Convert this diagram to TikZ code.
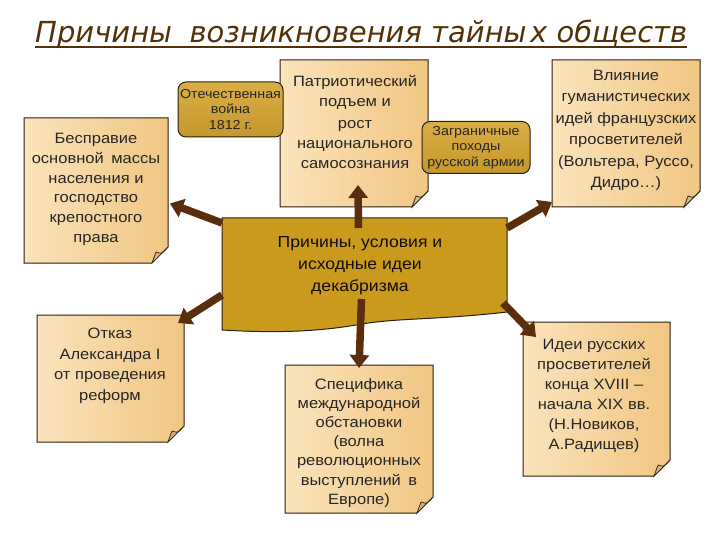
\documentclass[tikz,border=0pt]{standalone}
\usepackage{fontspec}
\setmainfont{Liberation Sans}[FakeStretch=1.1]
\newfontfamily\titlefont{DejaVu Sans}
\usetikzlibrary{arrows.meta}
\definecolor{paperA}{HTML}{FBE3BC}
\definecolor{paperB}{HTML}{F0C682}
\definecolor{flapc}{HTML}{D8B07C}
\definecolor{goldA}{HTML}{D9AF45}
\definecolor{goldB}{HTML}{C4972C}
\definecolor{ctrc}{HTML}{C99A1C}
\definecolor{arrc}{HTML}{5A2D0C}
\definecolor{titlec}{HTML}{53320A}
\definecolor{edgec}{HTML}{2A2010}
\tikzset{
  paper/.style={draw=edgec, line width=1pt, left color=paperA, right color=paperB},
  flap/.style={draw=edgec, line width=0.7pt, fill=flapc},
  boxnode/.style={inner sep=0pt, outer sep=0pt, draw=none},
  btext/.style={align=center, font=\fontsize{15}{19.8}\selectfont, text=black!85, inner sep=0pt, anchor=north},
  goldbox/.style={draw=edgec, line width=1pt, rounded corners=8pt, top color=goldA, bottom color=goldB,
    align=center, inner sep=0pt, font=\fontsize{13}{15.5}\selectfont, text=black!85},
  arr/.style={draw=arrc, line width=7.5pt, -{Triangle[width=19pt,length=13pt]}},
}
\newcommand\paperbox[5]{%
  \node[boxnode, minimum width={#4-#2}, minimum height={#5-#3}] (#1) at ({(#2+#4)/2},{(#3+#5)/2}) {};
  \path[paper] (#1.north west) -- (#1.north east) -- ([yshift=16pt]#1.south east)
     -- ([xshift=-16pt]#1.south east) -- (#1.south west) -- cycle;
  \path[flap] ([yshift=16pt]#1.south east) .. controls ([xshift=-6pt,yshift=9pt]#1.south east) .. ([xshift=-12pt,yshift=11pt]#1.south east)
     -- ([xshift=-16pt]#1.south east) -- cycle;
}
\begin{document}
\begin{tikzpicture}[x=1pt,y=-1pt]
\useasboundingbox[fill=white] (0,0) rectangle (720,540);

% title
\node[anchor=base west, inner sep=0pt, font=\titlefont\itshape\fontsize{29}{35}\selectfont, text=titlec]
  (title) at (35,43) {Причины\hspace{0.6em}возникновения тайны\hspace{0.12em}х обществ};
\draw[titlec, line width=2.5pt] ([yshift=-4pt]title.base west) -- ([yshift=-4pt]title.base east);

% paper boxes
\paperbox{lft}{24}{118}{168}{263}
\paperbox{top}{280}{60}{428}{207}
\paperbox{rgt}{552}{60}{700}{207}
\paperbox{otk}{37}{315}{184}{442}
\paperbox{spc}{285}{365}{433}{513}
\paperbox{ide}{523}{322}{670}{476}

\node[btext] (lftt) at (96,133) {Бесправие\\основной\hspace{0.5em}массы\\населения и\\господство\\крепостного\\права};
\node[btext] (topt) at (355,75) {Патриотический\\подъем и\\[3pt]рост\\национального\\самосознания};
\node[btext, font=\fontsize{15}{21.4}\selectfont] (rgtt) at (626,70) {Влияние\\гуманистических\\идей французских\\просветителей\\(Вольтера, Руссо,\\Дидро…)};
\node[btext, font=\fontsize{15}{20.5}\selectfont] (otkt) at (110,328) {Отказ\\Александра I\\от проведения\\реформ};
\node[btext, font=\fontsize{15}{19.2}\selectfont] (spct) at (359,378) {Специфика\\международной\\обстановки\\(волна\\революционных\\выступлений\hspace{0.5em}в\\Европе)};
\node[btext, font=\fontsize{15}{20}\selectfont] (idet) at (594,339) {Идеи русских\\просветителей\\конца XVIII –\\начала XIX вв.\\(Н.Новиков,\\А.Радищев)};

% centre scroll
\node[boxnode, minimum width=285pt, minimum height=112pt] (ctr) at (364.5,274) {};
\path[draw=edgec, line width=1pt, fill=ctrc]
  (ctr.north west) -- (ctr.north east) -- ([yshift=18pt]ctr.south east)
  .. controls ([xshift=-70pt,yshift=10pt]ctr.south east) and ([xshift=-110pt,yshift=12pt]ctr.south east)
  .. ([xshift=-145pt,yshift=6pt]ctr.south east)
  .. controls ([xshift=-200pt,yshift=-4pt]ctr.south east) and ([xshift=-250pt,yshift=-2pt]ctr.south east)
  .. (ctr.south west) -- cycle;
\node[btext, font=\fontsize{16}{22}\selectfont, text=black!90!brown] (ctrt) at (360,236)
  {Причины, условия и\\исходные идеи\\декабризма};

% gold boxes
\node[goldbox, minimum width=105pt, minimum height=55pt] (war) at (230.5,109.5) {Отечественная\\война\\1812 г.};
\node[goldbox, minimum width=108pt, minimum height=52pt] (cmp) at (476,147.5) {Заграничные\\походы\\русской армии};

% arrows
\draw[arr] ([xshift=-6pt,yshift=-10pt]ctr.north) -- ([xshift=4pt,yshift=22pt]top.south);
\draw[arr] ([yshift=-5pt]ctr.north west) -- ([xshift=2pt,yshift=-13pt]lft.east);
\draw[arr] ([yshift=-10pt]ctr.north east) -- ([yshift=5pt]rgt.south west);
\draw[arr] ([yshift=-21pt]ctr.west) -- ([xshift=-6pt,yshift=-8pt]otk.north east);
\draw[arr] ([xshift=-3pt,yshift=-25pt]ctr.center) -- ([yshift=-3pt]spc.north);
\draw[arr] ([xshift=-4pt,yshift=-29pt]ctr.east) -- ([xshift=13pt,yshift=-15pt]ide.north west);
\end{tikzpicture}
\end{document}
